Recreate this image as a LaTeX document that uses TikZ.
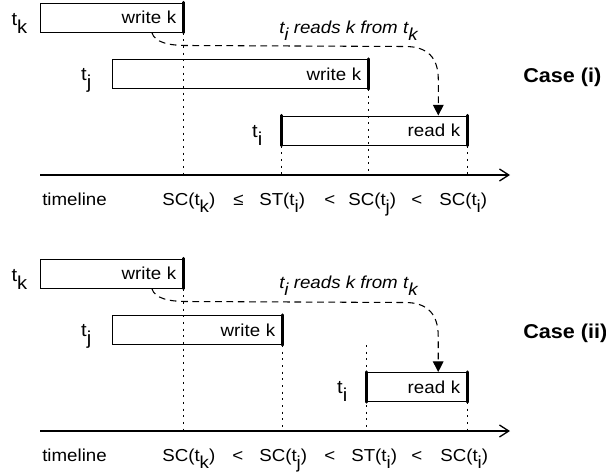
\documentclass[tikz,border=0pt]{standalone}
\usepackage{fontspec}
\setmainfont{Liberation Sans}[FakeStretch=1.08]
\usetikzlibrary{arrows.meta,calc}
\newcommand\lsub[1]{\raisebox{-0.45em}{#1}}
\begin{document}
\begin{tikzpicture}[x=0.75pt,y=-0.75pt,
  tbox/.style={draw, line width=0.75pt, align=right, inner xsep=5pt, inner ysep=0pt, minimum height=21.75pt, font=\fontsize{13}{15}\selectfont},
  bar/.style={line width=2.4pt, line cap=round},
  dotline/.style={line width=0.85pt, dash pattern=on 1.6pt off 3.4pt},
  tlarrow/.style={line width=1pt, -{Straight Barb[length=7pt,width=9pt]}},
  readarrow/.style={line width=0.8pt, dash pattern=on 5pt off 3.5pt, -{Triangle[length=8pt,width=8pt]}},
  tlab/.style={font=\fontsize{14}{16}\selectfont, inner sep=0pt, anchor=base east},
  txt/.style={font=\fontsize{13}{15}\selectfont, inner sep=0pt, anchor=base west},
  casetxt/.style={font=\bfseries\fontsize{15}{17}\selectfont, inner sep=0pt, anchor=west},
  rtxt/.style={font=\itshape\fontsize{13}{15}\selectfont, inner sep=0pt, anchor=base west}
]
\useasboundingbox (0,0) rectangle (606,475);

% ---------- Case (i) ----------
\coordinate (TA0) at (40,175);
\coordinate (TA1) at (510,175);
\node[tbox, text width=97.25pt] (tkA) at (111.5,17.5) {write k};
\node[tbox, text width=182pt] (tjA) at (240,74) {write k};
\node[tbox, text width=128.75pt] (tiA) at (374.5,130.5) {read k};

\draw[dotline] (tkA.south east) -- (tkA.south east |- TA0);
\draw[dotline] (tjA.south east) -- (tjA.south east |- TA0);
\draw[dotline] (tiA.south west) -- (tiA.south west |- TA0);
\draw[dotline] (tiA.south east) -- (tiA.south east |- TA0);

\draw[bar] (tkA.north east) -- (tkA.south east);
\draw[bar] (tjA.north east) -- (tjA.south east);
\draw[bar] (tiA.north west) -- (tiA.south west);
\draw[bar] (tiA.north east) -- (tiA.south east);

\node[tlab] (ltkA) at ($(tkA.west)+(-12,7.5)$) {t\lsub{k}};
\node[tlab] (ltjA) at ($(tjA.west)+(-20,6)$) {t\lsub{j}};
\node[tlab] (ltiA) at ($(tiA.west)+(-19,6.5)$) {t\lsub{i}};

\coordinate (SA) at ($(tkA.south west)!0.78!(tkA.south east)$);
\coordinate (EA) at ($(tiA.north west)!0.843!(tiA.north east)$);
\coordinate (BA) at ($(SA)+(35,13)$);
\coordinate (CA) at ($(EA|-SA)+(-33,14)$);
\coordinate (DA) at ($(EA)+(0,-36)$);
\draw[readarrow] (SA) .. controls +(3,10) and +(-18,0) .. (BA) -- (CA) .. controls +(22,0) and +(0,-22) .. (DA) -- (EA);
\node[rtxt] (rlA) at (279,33) {t\lsub{i} reads k from t\lsub{k}};

\draw[tlarrow] (TA0) -- (TA1);
\node[casetxt] (caseA) at (523,77) {Case (i)};

\node[txt] (tlA) at (42,205) {timeline};
\node[txt] (a1) at (162,205) {SC(t\lsub{k})};
\node[txt] (a2) at (233,205) {≤};
\node[txt] (a3) at (259,205) {ST(t\lsub{i})};
\node[txt] (a4) at (324,205) {<};
\node[txt] (a5) at (348,205) {SC(t\lsub{j})};
\node[txt] (a6) at (411,205) {<};
\node[txt] (a7) at (439,205) {SC(t\lsub{i})};

% ---------- Case (ii) ----------
\coordinate (TB0) at (40,431);
\coordinate (TB1) at (510,431);
\node[tbox, text width=97.25pt] (tkB) at (111.5,273.5) {write k};
\node[tbox, text width=117.5pt] (tjB) at (197,330) {write k};
\node[tbox, text width=65pt] (tiB) at (417,387) {read k};

\draw[dotline] (tkB.south east) -- (tkB.south east |- TB0);
\draw[dotline] (tjB.south east) -- (tjB.south east |- TB0);
\draw[dotline] (tiB.south west |- tjB.south) -- (tiB.south west |- TB0);
\draw[dotline] (tiB.south east) -- (tiB.south east |- TB0);

\draw[bar] (tkB.north east) -- (tkB.south east);
\draw[bar] (tjB.north east) -- (tjB.south east);
\draw[bar] (tiB.north west) -- (tiB.south west);
\draw[bar] (tiB.north east) -- (tiB.south east);

\node[tlab] (ltkB) at ($(tkB.west)+(-12,7.5)$) {t\lsub{k}};
\node[tlab] (ltjB) at ($(tjB.west)+(-20,6)$) {t\lsub{j}};
\node[tlab] (ltiB) at ($(tiB.west)+(-19,6.5)$) {t\lsub{i}};

\coordinate (SB) at ($(tkB.south west)!0.78!(tkB.south east)$);
\coordinate (EB) at ($(tiB.north west)!0.71!(tiB.north east)$);
\coordinate (BB) at ($(SB)+(35,13)$);
\coordinate (CB) at ($(EB|-SB)+(-33,14)$);
\coordinate (DB) at ($(EB)+(0,-36)$);
\draw[readarrow] (SB) .. controls +(3,10) and +(-18,0) .. (BB) -- (CB) .. controls +(22,0) and +(0,-22) .. (DB) -- (EB);
\node[rtxt] (rlB) at (279,288) {t\lsub{i} reads k from t\lsub{k}};

\draw[tlarrow] (TB0) -- (TB1);
\node[casetxt] (caseB) at (523,333) {Case (ii)};

\node[txt] (tlB) at (42,461) {timeline};
\node[txt] (b1) at (162,461) {SC(t\lsub{k})};
\node[txt] (b2) at (232,461) {<};
\node[txt] (b3) at (259,461) {SC(t\lsub{j})};
\node[txt] (b4) at (324,461) {<};
\node[txt] (b5) at (351,461) {ST(t\lsub{i})};
\node[txt] (b6) at (411,461) {<};
\node[txt] (b7) at (440,461) {SC(t\lsub{i})};
\end{tikzpicture}
\end{document}
